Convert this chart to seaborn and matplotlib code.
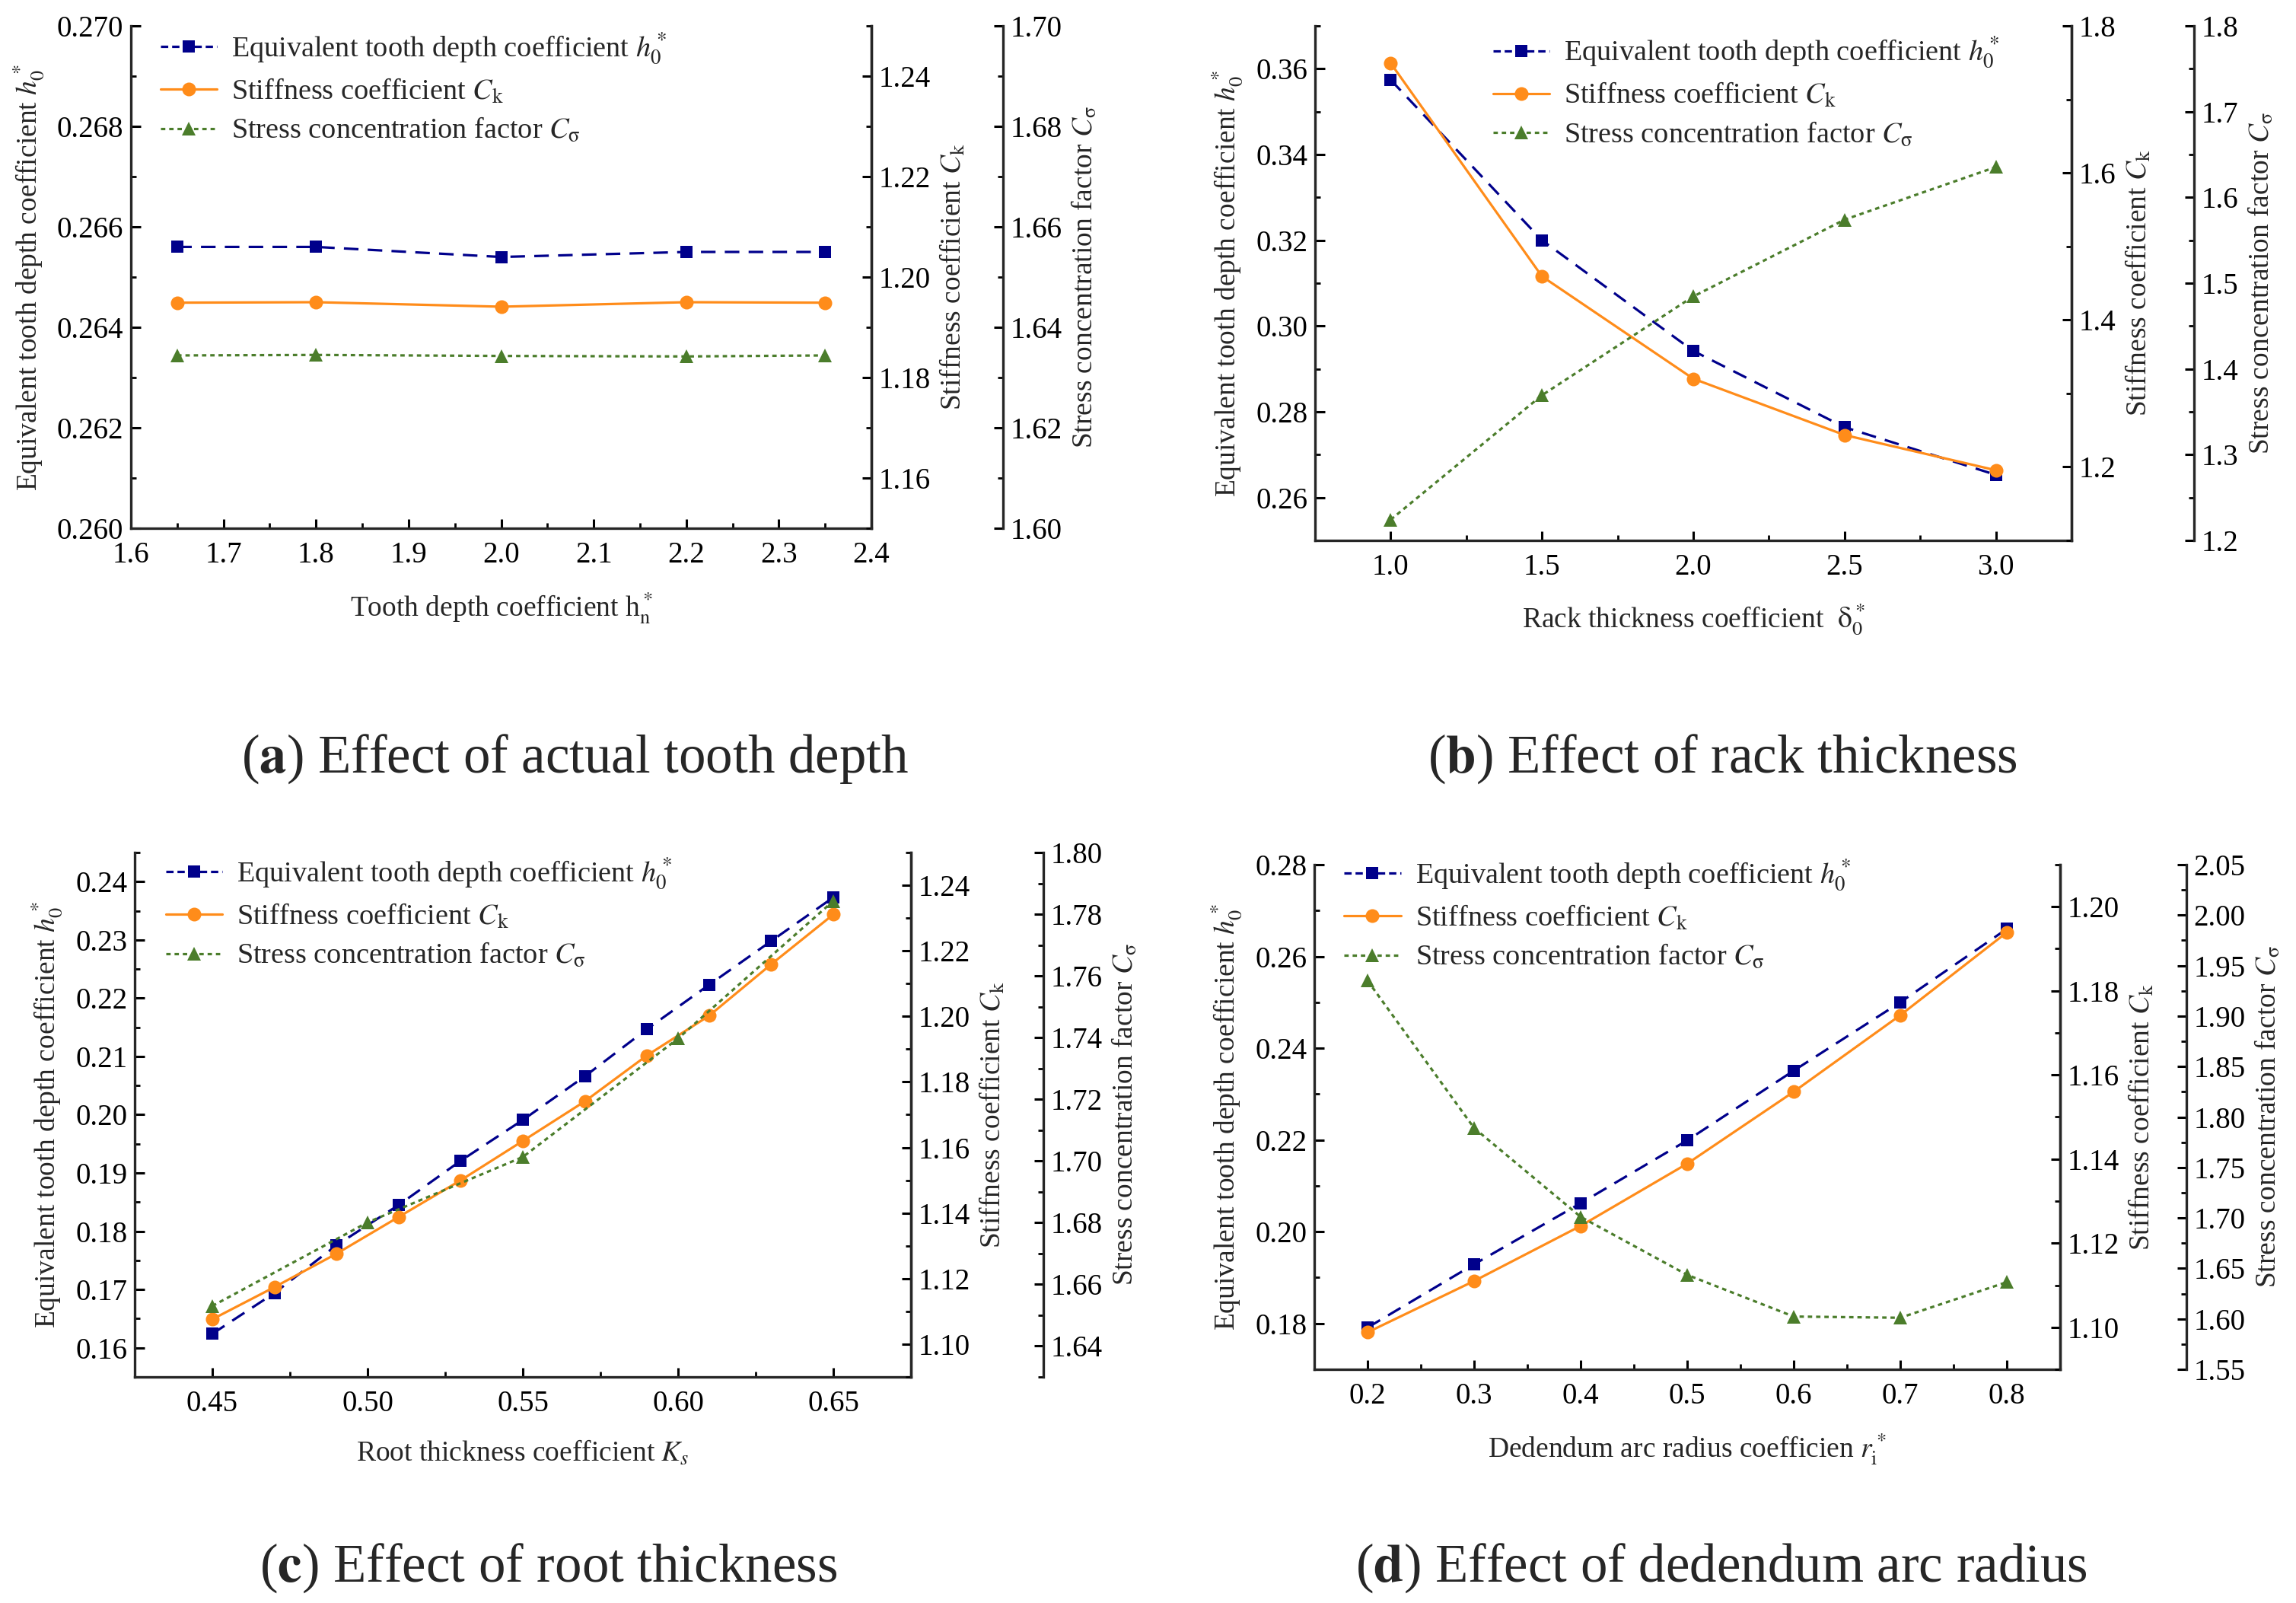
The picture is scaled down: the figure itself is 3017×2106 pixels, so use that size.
import numpy as np
import pandas as pd
import matplotlib
matplotlib.use("Agg")
import matplotlib.pyplot as plt
from matplotlib.ticker import MultipleLocator, FormatStrFormatter
from matplotlib.lines import Line2D
import seaborn as sns

# ---------------- data ----------------
# (a) tooth depth
a_x = [1.65, 1.80, 2.00, 2.20, 2.35]
a_h0 = [0.2656, 0.2656, 0.2654, 0.2655, 0.2655]
a_ck = [1.1949, 1.1950, 1.1941, 1.1950, 1.1949]
a_cs = [1.6344, 1.6345, 1.6343, 1.6342, 1.6344]

# (b) rack thickness
b_x = [1.0, 1.5, 2.0, 2.5, 3.0]
b_h0 = [0.3574, 0.3200, 0.2942, 0.2764, 0.2653]
b_ck = [1.7493, 1.4592, 1.3200, 1.2434, 1.1955]
b_cs = [1.2242, 1.3693, 1.4845, 1.5740, 1.6354]

# (c) root thickness
c_x = [0.45, 0.47, 0.49, 0.51, 0.53, 0.55, 0.57, 0.59, 0.61, 0.63, 0.65]
c_h0 = [0.1624, 0.1694, 0.1776, 0.1845, 0.1921, 0.1991, 0.2066, 0.2147, 0.2223, 0.2298, 0.2373]
c_ck = [1.1076, 1.1174, 1.1276, 1.1388, 1.1500, 1.1620, 1.1741, 1.1881, 1.2002, 1.2159, 1.2311]
c_cs_x = [0.45, 0.50, 0.55, 0.60, 0.65]
c_cs = [1.6530, 1.6801, 1.7013, 1.7397, 1.7843]

# (d) dedendum arc radius
d_x = [0.2, 0.3, 0.4, 0.5, 0.6, 0.7, 0.8]
d_h0 = [0.1791, 0.1929, 0.2062, 0.2199, 0.2351, 0.2500, 0.2660]
d_ck = [1.0988, 1.1110, 1.1241, 1.1389, 1.1560, 1.1742, 1.1939]
d_cs = [1.9351, 1.7891, 1.7011, 1.6436, 1.6023, 1.6011, 1.6364]

titles = ["a", "b", "c", "d"]
title_text = ["Effect of actual tooth depth", "Effect of rack thickness",
              "Effect of root thickness", "Effect of dedendum arc radius"]
xlabels = [r"Tooth depth coefficient h$_\mathrm{n}^*$",
           r"Rack thickness coefficient  $\mathrm{\delta}_0^*$",
           r"Root thickness coefficient $K_s$",
           r"Dedendum arc radius coefficien $r_\mathrm{i}^*$"]
leg_labels = [r"Equivalent tooth depth coefficient $h_0^*$",
              r"Stiffness coefficient $C_\mathrm{k}$",
              r"Stress concentration factor $C_\mathrm{\sigma}$"]
ylab_h0 = r"Equivalent tooth depth coefficient $h_0^*$"
ylab_ck = r"Stiffness coefficient $C_\mathrm{k}$"
ylab_cs = r"Stress concentration factor $C_\mathrm{\sigma}$"

# ---------------- style ----------------
sns.set_theme(style="ticks")
plt.rcParams['font.family'] = ['Liberation Serif', 'DejaVu Serif']
plt.rcParams['mathtext.fontset'] = 'stix'
plt.rcParams['axes.linewidth'] = 2.4
plt.rcParams['xtick.direction'] = 'in'
plt.rcParams['ytick.direction'] = 'in'

BLUE = '#00008B'
ORANGE = '#FF8C1A'
GREEN = '#4B7D2B'

W, H = 3017, 2106
fig = plt.figure(figsize=(W / 100, H / 100), dpi=100)

# panel boxes in pixel coords: left, right, top, bottom, third-axis offset
boxes = [(172, 1145, 34, 694, 173),
         (1728, 2722, 34, 710, 161),
         (177, 1197, 1120, 1809, 174),
         (1727, 2707, 1136, 1799, 166)]

cfg = [
    dict(x=a_x, h0=a_h0, ck=a_ck, csx=a_x, cs=a_cs,
         xlim=(1.6, 2.4), xmaj=0.1, xmin=0.05, xfmt='%.1f',
         ylim=(0.260, 0.270), ymaj=0.002, ymin=0.001, yfmt='%.3f',
         cklim=(1.15, 1.25), ckmaj=0.02, ckmin=0.01, ckfmt='%.2f',
         cslim=(1.60, 1.70), csmaj=0.02, csmin=0.01, csfmt='%.2f',
         leg=(0.04, 0.99)),
    dict(x=b_x, h0=b_h0, ck=b_ck, csx=b_x, cs=b_cs,
         xlim=(0.75, 3.25), xmaj=0.5, xmin=0.25, xfmt='%.1f',
         ylim=(0.25, 0.37), ymaj=0.02, ymin=0.01, yfmt='%.2f',
         cklim=(1.1, 1.8), ckmaj=0.2, ckmin=0.1, ckfmt='%.1f',
         cslim=(1.2, 1.8), csmaj=0.1, csmin=0.05, csfmt='%.1f',
         leg=(0.235, 0.982)),
    dict(x=c_x, h0=c_h0, ck=c_ck, csx=c_cs_x, cs=c_cs,
         xlim=(0.425, 0.675), xmaj=0.05, xmin=0.025, xfmt='%.2f',
         ylim=(0.155, 0.245), ymaj=0.01, ymin=0.005, yfmt='%.2f',
         cklim=(1.09, 1.25), ckmaj=0.02, ckmin=0.01, ckfmt='%.2f',
         cslim=(1.63, 1.80), csmaj=0.02, csmin=0.01, csfmt='%.2f',
         leg=(0.04, 0.993)),
    dict(x=d_x, h0=d_h0, ck=d_ck, csx=d_x, cs=d_cs,
         xlim=(0.15, 0.85), xmaj=0.1, xmin=0.05, xfmt='%.1f',
         ylim=(0.17, 0.28), ymaj=0.02, ymin=0.01, yfmt='%.2f',
         cklim=(1.09, 1.21), ckmaj=0.02, ckmin=0.01, ckfmt='%.2f',
         cslim=(1.55, 2.05), csmaj=0.05, csmin=0.025, csfmt='%.2f',
         leg=(0.04, 1.014)),
]

TICK_FS = 28
LAB_FS = 27
LEG_FS = 27.5
title_pos = [(755, 1015), (2263, 1015), (721, 2078), (2262, 2078)]


def style_axis(axis_obj, maj, mn, fmt):
    axis_obj.set_major_locator(MultipleLocator(maj))
    axis_obj.set_minor_locator(MultipleLocator(mn))
    axis_obj.set_major_formatter(FormatStrFormatter(fmt))


for i, (box, c) in enumerate(zip(boxes, cfg)):
    l, r, t, b, off = box
    ax = fig.add_axes([l / W, 1 - b / H, (r - l) / W, (b - t) / H])
    ax2 = ax.twinx()
    ax3 = ax.twinx()
    ax3.spines['right'].set_position(('outward', off * 0.72))

    for a in (ax, ax2, ax3):
        a.set_facecolor('none')
        a.spines['top'].set_visible(False)
        for s in a.spines.values():
            s.set_linewidth(2.4)
    ax2.spines['left'].set_visible(False)
    ax3.spines['left'].set_visible(False)
    ax2.spines['bottom'].set_visible(False)
    ax3.spines['bottom'].set_visible(False)

    df_h = pd.DataFrame({'x': c['x'], 'y': c['h0']})
    df_k = pd.DataFrame({'x': c['x'], 'y': c['ck']})
    df_s = pd.DataFrame({'x': c['csx'], 'y': c['cs']})

    sns.lineplot(data=df_h, x='x', y='y', ax=ax, color=BLUE, marker='s',
                 markersize=11.5, markeredgewidth=0, linewidth=2.3,
                 dashes=False, linestyle=(0, (6, 3.8)), sort=False)
    sns.lineplot(data=df_k, x='x', y='y', ax=ax2, color=ORANGE, marker='o',
                 markersize=13, markeredgewidth=0, linewidth=2.3, sort=False)
    sns.lineplot(data=df_s, x='x', y='y', ax=ax3, color=GREEN, marker='^',
                 markersize=13, markeredgewidth=0, linewidth=2.3,
                 linestyle=(0, (1.8, 1.6)), sort=False)

    ax.set_xlim(*c['xlim'])
    ax.set_ylim(*c['ylim'])
    ax2.set_ylim(*c['cklim'])
    ax3.set_ylim(*c['cslim'])

    style_axis(ax.xaxis, c['xmaj'], c['xmin'], c['xfmt'])
    style_axis(ax.yaxis, c['ymaj'], c['ymin'], c['yfmt'])
    style_axis(ax2.yaxis, c['ckmaj'], c['ckmin'], c['ckfmt'])
    style_axis(ax3.yaxis, c['csmaj'], c['csmin'], c['csfmt'])

    for a in (ax, ax2, ax3):
        a.tick_params(axis='both', which='major', length=9, width=2.2,
                      labelsize=TICK_FS, color='black', labelcolor='black')
        a.tick_params(axis='both', which='minor', length=5, width=2.0,
                      color='black')
    ax.tick_params(axis='x', pad=12)
    ax.tick_params(axis='y', pad=7)
    ax2.tick_params(axis='y', pad=7)
    ax3.tick_params(axis='y', pad=7)

    ax.set_xlabel(xlabels[i], fontsize=LAB_FS, labelpad=20)
    ax.set_ylabel(ylab_h0, fontsize=LAB_FS, labelpad=10)
    ax2.set_ylabel(ylab_ck, fontsize=LAB_FS, labelpad=8)
    ax3.set_ylabel(ylab_cs, fontsize=LAB_FS, labelpad=8)

    handles = [
        Line2D([], [], color=BLUE, marker='s', markersize=11.5, markeredgewidth=0,
               linewidth=2.3, linestyle=(0, (3, 1.6))),
        Line2D([], [], color=ORANGE, marker='o', markersize=13, markeredgewidth=0,
               linewidth=2.3),
        Line2D([], [], color=GREEN, marker='^', markersize=13, markeredgewidth=0,
               linewidth=2.3, linestyle=(0, (1.8, 1.6))),
    ]
    ax.legend(handles, leg_labels, loc='upper left', bbox_to_anchor=c['leg'],
              frameon=False, fontsize=LEG_FS, handlelength=1.95,
              handletextpad=0.5, labelspacing=0.38, borderaxespad=0,
              borderpad=0)

    tx, ty = title_pos[i]
    fig.text(tx / W, 1 - ty / H, r"($\mathbf{" + titles[i] + r"}$) " + title_text[i],
             ha='center', va='baseline', fontsize=51)

fig.savefig("out.png", dpi=100, facecolor='white')
